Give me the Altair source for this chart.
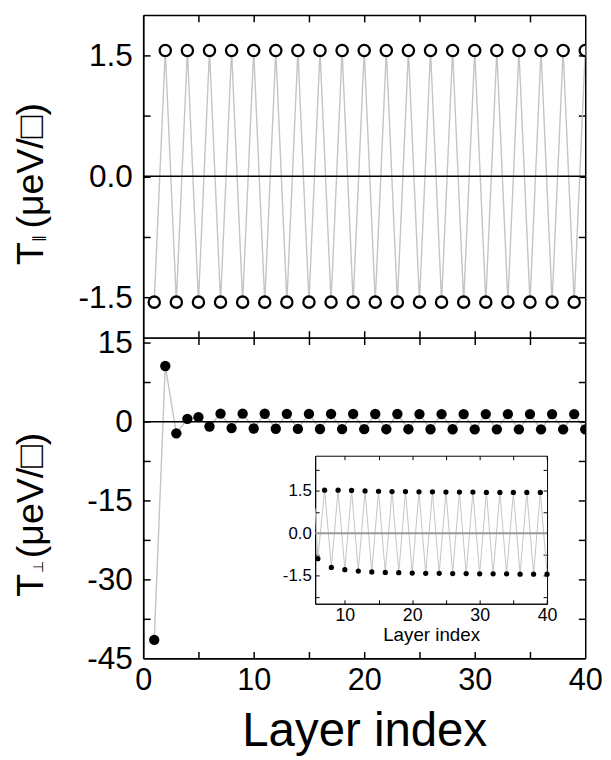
import altair as alt
import pandas as pd

# ---------------- data ----------------
layers = list(range(1, 41))
t_par = [-1.56, 1.56, -1.56, 1.56, -1.56, 1.56, -1.56, 1.56, -1.56, 1.56,
         -1.56, 1.56, -1.56, 1.56, -1.56, 1.56, -1.56, 1.56, -1.56, 1.56,
         -1.56, 1.56, -1.56, 1.56, -1.56, 1.56, -1.56, 1.56, -1.56, 1.56,
         -1.56, 1.56, -1.56, 1.56, -1.56, 1.56, -1.56, 1.56, -1.56, 1.56]
t_perp = [-41.5, 10.6, -2.2, 0.55, 0.88, -0.9, 1.53, -1.21, 1.53, -1.29,
          1.52, -1.34, 1.50, -1.37, 1.49, -1.39, 1.48, -1.40, 1.48, -1.41,
          1.47, -1.42, 1.47, -1.42, 1.46, -1.43, 1.46, -1.43, 1.46, -1.44,
          1.45, -1.44, 1.45, -1.44, 1.45, -1.45, 1.45, -1.45, 1.45, -1.45]

x_domain = [0, 40]
x_labels = [0, 10, 20, 30, 40]
x_ticks = [5, 10, 15, 20, 25, 30, 35]

top_domain = [-2, 2]
top_y_labels = [-1.5, 0, 1.5]
top_y_ticks = [-1.5, -0.75, 0, 0.75, 1.5]

bot_domain = [-45, 16]
bot_y_labels = [-45, -30, -15, 0, 15]
bot_y_ticks = [-37.5, -30, -22.5, -15, -7.5, 0, 7.5, 15]

inset_x_domain = [5.6, 40]
inset_y_domain = [-2.5, 2.75]
inset_x_labels = [10, 20, 30, 40]
inset_x_ticks = [10, 15, 20, 25, 30, 35, 40]
inset_y_labels = [-1.5, 0, 1.5]
inset_y_ticks = [-2.25, -1.5, -0.75, 0, 0.75, 1.5, 2.25]
inset_first_layer = 5

zero_value = [0]

# title pieces (symbol, subscript, unit)
top_title = ["T", "\u2225", "(\u03bceV/\u25a1)"]
bot_title = ["T", "\u22a5", "(\u03bceV/\u25a1)"]

# ---------------- layout constants ----------------
W = 448
H1 = 327
H2 = 325
INX = [174.3, 409.3]   # inset pixel box inside lower panel
INY = [269.7, 119.7]
TITLE_X = -102
TOP_TITLE_Y = [253, 230, 216]
BOT_TITLE_Y = [262, 238, 223]

FONT = "Liberation Sans"
LINE_GRAY = "#c4c4c4"

df_top = pd.DataFrame({"layer": layers, "t": t_par})
df_bot = pd.DataFrame({"layer": layers, "t": t_perp})
df_inset = df_bot[df_bot["layer"] >= inset_first_layer].reset_index(drop=True)
df_zero_main = pd.DataFrame({"x0": [x_domain[0]], "x1": [x_domain[1]], "y": zero_value})
df_zero_inset = pd.DataFrame({"x0": [inset_x_domain[0]], "x1": [inset_x_domain[1]], "y": zero_value})


def tick_axis(orient, offset, values, size=7, width=1.5, **kw):
    return alt.Axis(orient=orient, offset=offset, values=values, labels=False,
                    ticks=True, tickSize=size, tickWidth=width, tickColor="black",
                    domain=True, domainColor="black", domainWidth=width, grid=False, **kw)


def title_props(x, y, size):
    return dict(titleX=x, titleY=y, titleFontSize=size, titleFontWeight="normal",
                titleAngle=270, titleAlign="left", titleBaseline="alphabetic")


neg_fmt_1f = "(datum.value < 0 ? '-' : '') + format(abs(datum.value), '.1f')"
neg_fmt_d = "(datum.value < 0 ? '-' : '') + format(abs(datum.value), 'd')"

# ---------------- top panel ----------------
xs_top = alt.Scale(domain=x_domain, nice=False, zero=False)
ys_top = alt.Scale(domain=top_domain, nice=False, zero=False)

top_y_axis = alt.Axis(orient="left", values=top_y_labels, labelExpr=neg_fmt_1f,
                      labelFontSize=32, labelPadding=11, ticks=False, tickSize=0,
                      domain=True, domainColor="black", domainWidth=1.5, grid=False,
                      **title_props(TITLE_X, TOP_TITLE_Y[0], 38))

line_top = alt.Chart(df_top).mark_line(color=LINE_GRAY, strokeWidth=1.4, clip=True).encode(
    x=alt.X("layer:Q", scale=xs_top, axis=tick_axis("top", -H1, x_ticks), title=None),
    y=alt.Y("t:Q", scale=ys_top, axis=top_y_axis, title=top_title[0]),
)
zero_top = alt.Chart(df_zero_main).mark_rule(color="black", strokeWidth=1.5).encode(
    x=alt.X("x0:Q", scale=xs_top, axis=tick_axis("bottom", -H1, x_ticks), title=None),
    x2="x1:Q",
    y=alt.Y("y:Q", scale=ys_top,
            axis=tick_axis("left", -W, top_y_ticks, **title_props(TITLE_X - W, TOP_TITLE_Y[2], 38)),
            title=top_title[2]),
)
pts_top = alt.Chart(df_top).mark_point(shape="circle", filled=True, fill="white", stroke="black",
                                       strokeWidth=2.3, size=130, opacity=1, clip=True).encode(
    x=alt.X("layer:Q", scale=xs_top, axis=None),
    y=alt.Y("t:Q", scale=ys_top,
            axis=tick_axis("right", -W, top_y_ticks, **title_props(TITLE_X, TOP_TITLE_Y[1], 14)),
            title=top_title[1]),
)
top = alt.layer(line_top, zero_top, pts_top).resolve_axis(
    x="independent", y="independent").properties(width=W, height=H1)

# ---------------- bottom panel ----------------
xs_bot = alt.Scale(domain=x_domain, nice=False, zero=False)
ys_bot = alt.Scale(domain=bot_domain, nice=False, zero=False)

bot_x_axis = alt.Axis(orient="bottom", values=x_labels, labelFontSize=31, labelPadding=8,
                      labelFlush=False, ticks=False, tickSize=0, domain=True,
                      domainColor="black", domainWidth=1.5, grid=False,
                      titleFontSize=48, titleFontWeight="normal", titleX=W / 2,
                      titleY=88, titleBaseline="alphabetic")
bot_y_axis = alt.Axis(orient="left", values=bot_y_labels, labelExpr=neg_fmt_d,
                      labelFontSize=32, labelPadding=11, ticks=False, tickSize=0,
                      domain=True, domainColor="black", domainWidth=1.5, grid=False,
                      **title_props(TITLE_X, BOT_TITLE_Y[0], 38))

line_bot = alt.Chart(df_bot).mark_line(color=LINE_GRAY, strokeWidth=1.4, clip=True).encode(
    x=alt.X("layer:Q", scale=xs_bot, axis=bot_x_axis, title="Layer index"),
    y=alt.Y("t:Q", scale=ys_bot, axis=bot_y_axis, title=bot_title[0]),
)
zero_bot = alt.Chart(df_zero_main).mark_rule(color="black", strokeWidth=1.5).encode(
    x=alt.X("x0:Q", scale=xs_bot, axis=tick_axis("bottom", -H2, x_ticks), title=None),
    x2="x1:Q",
    y=alt.Y("y:Q", scale=ys_bot,
            axis=tick_axis("left", -W, bot_y_ticks, **title_props(TITLE_X - W, BOT_TITLE_Y[2], 38)),
            title=bot_title[2]),
)
pts_bot = alt.Chart(df_bot).mark_circle(color="black", size=110, opacity=1, clip=True).encode(
    x=alt.X("layer:Q", scale=xs_bot, axis=tick_axis("top", -H2, x_ticks), title=None),
    y=alt.Y("t:Q", scale=ys_bot,
            axis=tick_axis("right", -W, bot_y_ticks, **title_props(TITLE_X, BOT_TITLE_Y[1], 14)),
            title=bot_title[1]),
)
main_bot = alt.layer(line_bot, zero_bot, pts_bot).resolve_axis(x="independent", y="independent")

# ---------------- inset ----------------
xs_in = alt.Scale(domain=inset_x_domain, range=INX, nice=False, zero=False, clamp=True)
ys_in = alt.Scale(domain=inset_y_domain, range=INY, nice=False, zero=False)

in_x_axis = alt.Axis(orient="bottom", offset=INY[0] - H2, values=inset_x_labels,
                     labelFontSize=18, labelPadding=3, labelFlush=False, ticks=False,
                     tickSize=0, domain=True, domainColor="black", domainWidth=1, grid=False,
                     titleFontSize=19, titleFontWeight="normal",
                     titleX=(INX[0] + INX[1]) / 2, titleY=37, titleBaseline="alphabetic")
in_y_axis = alt.Axis(orient="left", offset=-INX[0], values=inset_y_labels,
                     labelExpr=neg_fmt_1f, labelFontSize=17, labelPadding=4, ticks=False,
                     tickSize=0, domain=True, domainColor="black", domainWidth=1, grid=False)

line_in = alt.Chart(df_inset).mark_line(color=LINE_GRAY, strokeWidth=1).encode(
    x=alt.X("layer:Q", scale=xs_in, axis=in_x_axis, title="Layer index"),
    y=alt.Y("t:Q", scale=ys_in, axis=in_y_axis, title=None),
)
zero_in = alt.Chart(df_zero_inset).mark_rule(color="#999999", strokeWidth=2).encode(
    x=alt.X("x0:Q", scale=xs_in, axis=tick_axis("bottom", INY[1] - H2, inset_x_ticks, 4, 1), title=None),
    x2="x1:Q",
    y=alt.Y("y:Q", scale=ys_in, axis=tick_axis("left", -INX[1], inset_y_ticks, 4, 1), title=None),
)
pts_in = alt.Chart(df_inset).transform_filter(
    f"datum.layer >= {inset_x_domain[0]}"
).mark_circle(color="black", size=28, opacity=1).encode(
    x=alt.X("layer:Q", scale=xs_in, axis=tick_axis("top", -INY[0], inset_x_ticks, 4, 1), title=None),
    y=alt.Y("t:Q", scale=ys_in, axis=tick_axis("right", INX[0] - W, inset_y_ticks, 4, 1), title=None),
)
inset = alt.layer(line_in, zero_in, pts_in).resolve_axis(x="independent", y="independent")

bottom = alt.layer(main_bot, inset).resolve_scale(
    x="independent", y="independent").resolve_axis(
    x="independent", y="independent").properties(width=W, height=H2)

chart = alt.vconcat(top, bottom, spacing=0, bounds="flush").properties(
    padding={"left": 5, "top": 1, "right": 0, "bottom": 0}
).configure(font=FONT).configure_view(stroke=None).configure_axis(
    labelFont=FONT, titleFont=FONT, labelColor="black", titleColor="black"
)

chart.save("out.html", embed_options={"renderer": "svg", "actions": False})
